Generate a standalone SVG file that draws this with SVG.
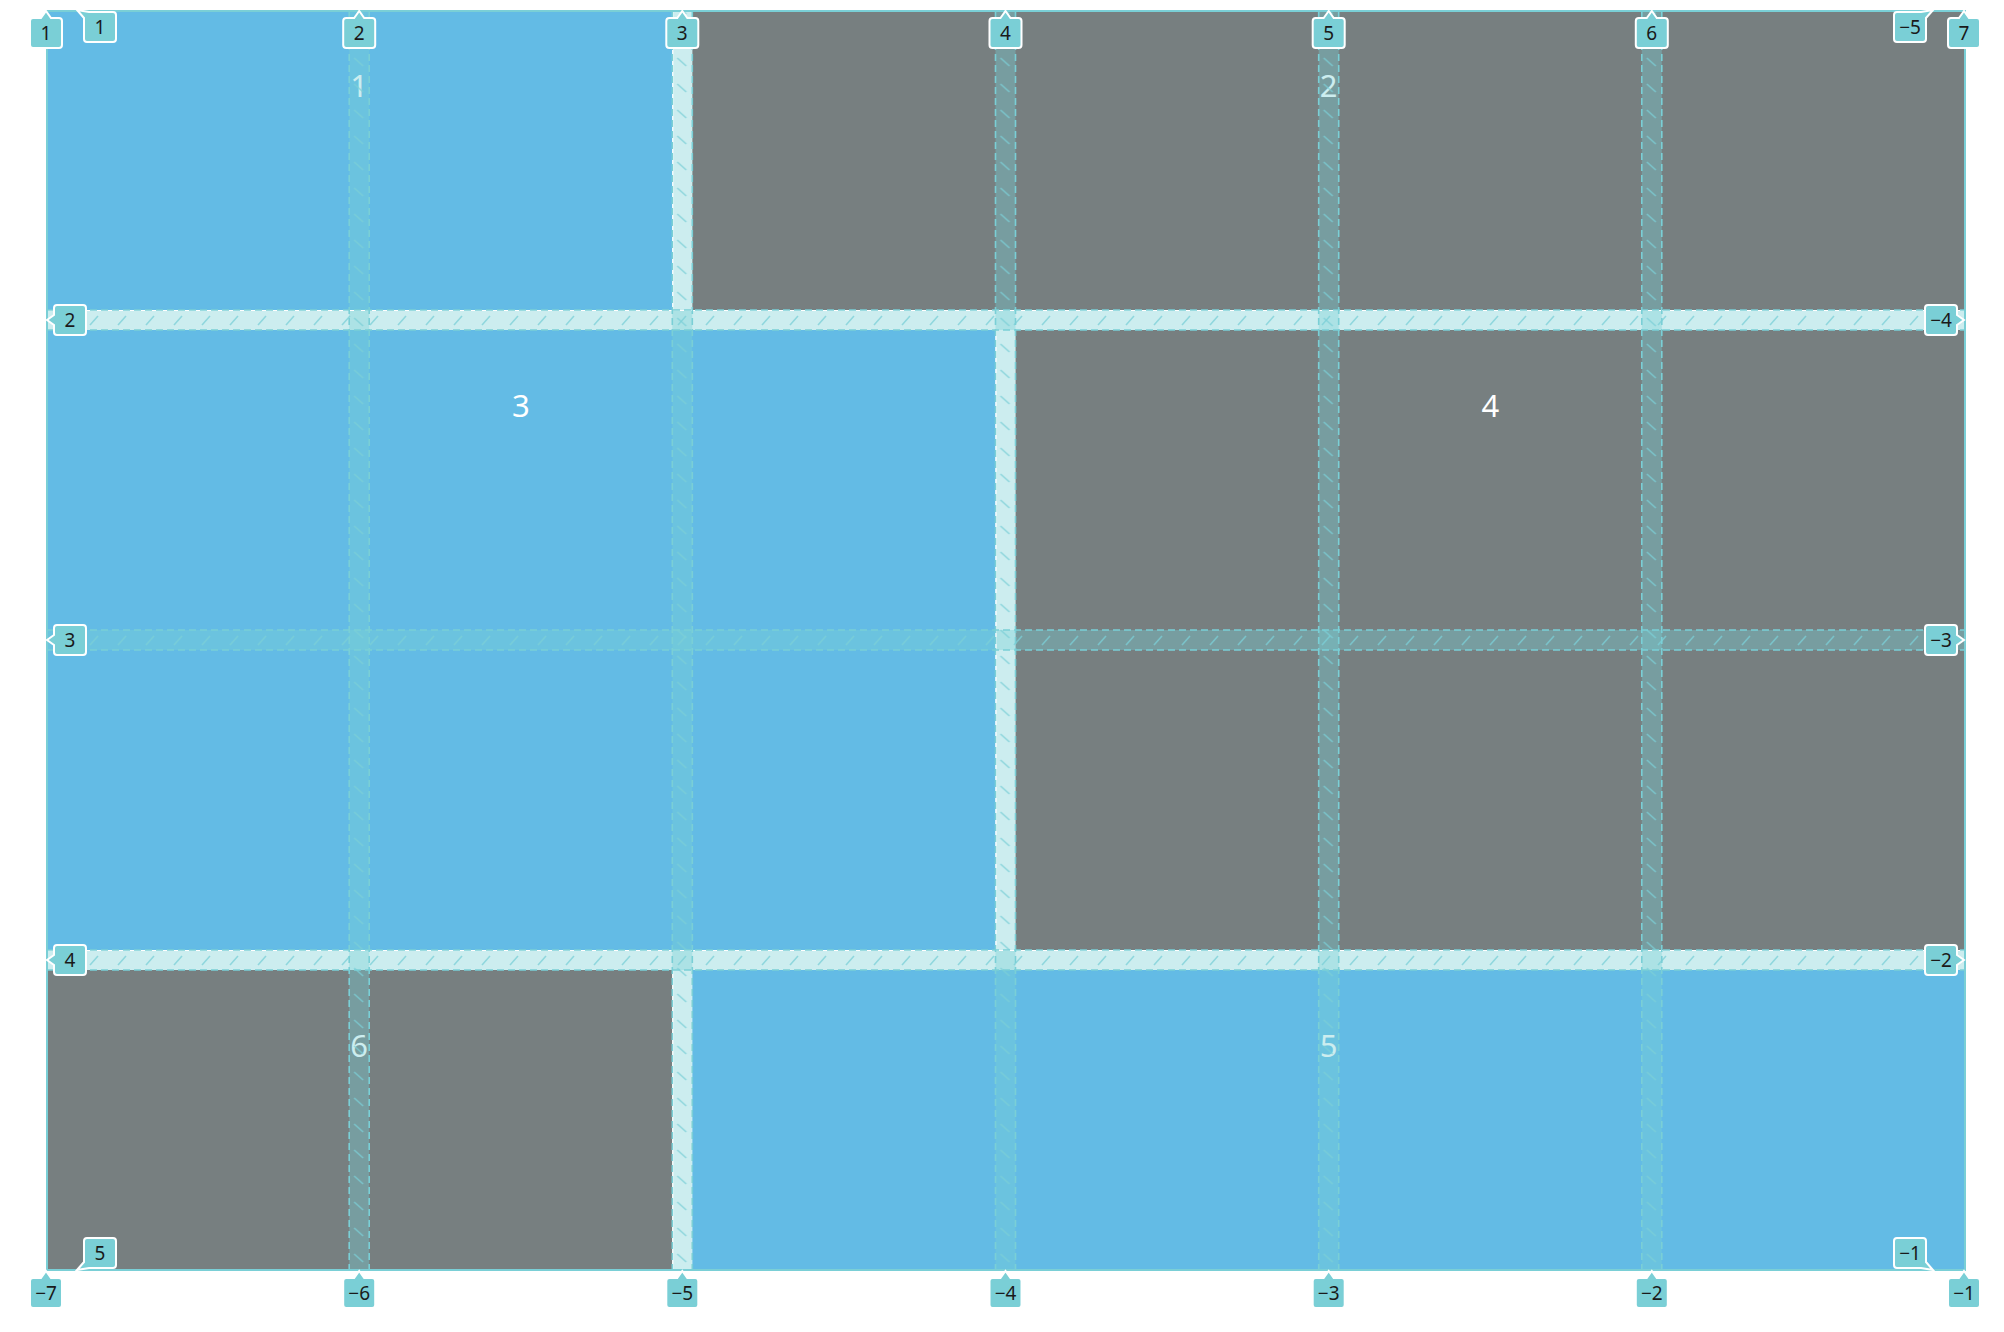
<svg xmlns="http://www.w3.org/2000/svg" xmlns:xlink="http://www.w3.org/1999/xlink" width="2004" height="1332" viewBox="0 0 2004 1332">
<style>
.blue{fill:#63BBE5}
.gray{fill:#777F80}
.num{font-family:"Noto Sans","Open Sans",sans-serif;font-size:31px;fill:#ffffff;text-anchor:middle}
.gapv{fill:url(#hv)}
.gaph{fill:url(#hh)}
.gapfill{fill:#7ACFD6;fill-opacity:0.38}
.edge{stroke:#7ACFD6;stroke-width:1.6;stroke-dasharray:7 4;fill:none}
.wedge{stroke:#ffffff;stroke-width:1.2;fill:none}
.lbl{fill:#7ACFD6;stroke:#ffffff;stroke-width:2}
.lt{font-family:"Noto Sans","Open Sans",sans-serif;font-size:19px;fill:#1a1a1a;text-anchor:middle}
</style>
<defs>
<pattern id="hv" width="20" height="26" patternUnits="userSpaceOnUse"><path d="M5,6 L14,14" stroke="#7ACFD6" stroke-opacity="0.75" stroke-width="1.6"/></pattern>
<pattern id="hh" x="0" y="10" width="28" height="20" patternUnits="userSpaceOnUse"><path d="M6,15 L14,6" stroke="#7ACFD6" stroke-opacity="0.75" stroke-width="1.6"/></pattern>
<path id="lu" d="M-5,8 L0,1 L5,8 H13 A3,3 0 0 1 16,11 V35 A3,3 0 0 1 13,38 H-13 A3,3 0 0 1 -16,35 V11 A3,3 0 0 1 -13,8 Z"/>
<path id="ll" d="M8,-5 L1,0 L8,5 V12 A3,3 0 0 0 11,15 H37 A3,3 0 0 0 40,12 V-12 A3,3 0 0 0 37,-15 H11 A3,3 0 0 0 8,-12 Z"/>
<path id="lr" d="M-8,-5 L-1,0 L-8,5 V12 A3,3 0 0 1 -11,15 H-37 A3,3 0 0 1 -40,12 V-12 A3,3 0 0 1 -37,-15 H-11 A3,3 0 0 1 -8,-12 Z"/>
<path id="ctl" d="M0,0 L12,2 H36 A3,3 0 0 1 39,5 V29 A3,3 0 0 1 36,32 H10 A3,3 0 0 1 7,29 V8 Z"/>
<path id="cbl" d="M0,0 L7,-8 V-29 A3,3 0 0 1 10,-32 H36 A3,3 0 0 1 39,-29 V-5 A3,3 0 0 1 36,-2 H12 Z"/>
<path id="ctr" d="M0,0 L-7,8 V29 A3,3 0 0 1 -10,32 H-36 A3,3 0 0 1 -39,29 V5 A3,3 0 0 1 -36,2 H-12 Z"/>
<path id="cbr" d="M0,0 L-12,-2 H-36 A3,3 0 0 1 -39,-5 V-29 A3,3 0 0 1 -36,-32 H-10 A3,3 0 0 1 -7,-29 V-8 Z"/>
</defs>
<rect width="2004" height="1332" fill="#ffffff"/>

<g id="item1"><rect class="blue" x="46" y="10" width="626.3" height="300"/><text class="num" x="359.2" y="97">1</text></g>
<g id="item2"><rect class="gray" x="692.3" y="10" width="1272.7" height="300"/><text class="num" x="1328.7" y="97">2</text></g>
<g id="item3"><rect class="blue" x="46" y="330" width="949.5" height="620"/><text class="num" x="520.8" y="417">3</text></g>
<g id="item4"><rect class="gray" x="1015.5" y="330" width="949.5" height="620"/><text class="num" x="1490.3" y="417">4</text></g>
<g id="item6"><rect class="gray" x="46" y="970" width="626.3" height="300"/><text class="num" x="359.2" y="1057">6</text></g>
<g id="item5"><rect class="blue" x="692.3" y="970" width="1272.7" height="300"/><text class="num" x="1328.7" y="1057">5</text></g>

<g id="connectors">
<g id="gap-fills">
<rect class="gapfill" x="349.2" y="10" width="20" height="1260"/>
<rect class="gapfill" x="672.3" y="10" width="20" height="1260"/>
<rect class="gapfill" x="995.5" y="10" width="20" height="1260"/>
<rect class="gapfill" x="1318.7" y="10" width="20" height="1260"/>
<rect class="gapfill" x="1641.8" y="10" width="20" height="1260"/>
<rect class="gapfill" x="46" y="310" width="1919" height="20"/>
<rect class="gapfill" x="46" y="630" width="1919" height="20"/>
<rect class="gapfill" x="46" y="950" width="1919" height="20"/>
</g>
<g id="hatches">
<rect class="gapv" transform="translate(349.2,0)" x="0" y="10" width="20" height="1260"/>
<rect class="gapv" transform="translate(672.3,0)" x="0" y="10" width="20" height="1260"/>
<rect class="gapv" transform="translate(995.5,0)" x="0" y="10" width="20" height="1260"/>
<rect class="gapv" transform="translate(1318.7,0)" x="0" y="10" width="20" height="1260"/>
<rect class="gapv" transform="translate(1641.8,0)" x="0" y="10" width="20" height="1260"/>
<rect class="gaph" x="46" y="310" width="1919" height="20"/>
<rect class="gaph" x="46" y="630" width="1919" height="20"/>
<rect class="gaph" x="46" y="950" width="1919" height="20"/>
</g>
<g id="white-edges">
<path class="wedge" d="M46,310.5 H1965 M46,950.5 H1965 M672.8,10 V310 M672.8,970 V1270 M996,330 V950"/>
</g>
<g id="gap-edges">
<path class="edge" d="M349.2,10 V1270 M369.2,10 V1270 M672.3,10 V1270 M692.3,10 V1270 M995.5,10 V1270 M1015.5,10 V1270 M1318.7,10 V1270 M1338.7,10 V1270 M1641.8,10 V1270 M1661.8,10 V1270"/>
<path class="edge" d="M46,310 H1965 M46,330 H1965 M46,630 H1965 M46,650 H1965 M46,950 H1965 M46,970 H1965"/>
</g>
<rect id="grid-outline" x="47" y="11" width="1918" height="1259" fill="none" stroke="#7ACFD6" stroke-width="2"/>
</g>

<g id="labels-top">
<use href="#lu" class="lbl" x="46" y="10"/><text class="lt" x="46" y="39.5">1</text>
<use href="#lu" class="lbl" x="359.2" y="10"/><text class="lt" x="359.2" y="39.5">2</text>
<use href="#lu" class="lbl" x="682.3" y="10"/><text class="lt" x="682.3" y="39.5">3</text>
<use href="#lu" class="lbl" x="1005.5" y="10"/><text class="lt" x="1005.5" y="39.5">4</text>
<use href="#lu" class="lbl" x="1328.7" y="10"/><text class="lt" x="1328.7" y="39.5">5</text>
<use href="#lu" class="lbl" x="1651.8" y="10"/><text class="lt" x="1651.8" y="39.5">6</text>
<use href="#lu" class="lbl" x="1964" y="10"/><text class="lt" x="1964" y="39.5">7</text>
</g>
<g id="labels-bottom">
<use href="#lu" class="lbl" x="46" y="1270"/><text class="lt" x="46" y="1299.5">−7</text>
<use href="#lu" class="lbl" x="359.2" y="1270"/><text class="lt" x="359.2" y="1299.5">−6</text>
<use href="#lu" class="lbl" x="682.3" y="1270"/><text class="lt" x="682.3" y="1299.5">−5</text>
<use href="#lu" class="lbl" x="1005.5" y="1270"/><text class="lt" x="1005.5" y="1299.5">−4</text>
<use href="#lu" class="lbl" x="1328.7" y="1270"/><text class="lt" x="1328.7" y="1299.5">−3</text>
<use href="#lu" class="lbl" x="1651.8" y="1270"/><text class="lt" x="1651.8" y="1299.5">−2</text>
<use href="#lu" class="lbl" x="1964" y="1270"/><text class="lt" x="1964" y="1299.5">−1</text>
</g>
<g id="labels-left">
<use href="#ctl" class="lbl" x="77" y="10"/><text class="lt" x="100" y="33.5">1</text>
<use href="#ll" class="lbl" x="46" y="320"/><text class="lt" x="70" y="326.5">2</text>
<use href="#ll" class="lbl" x="46" y="640"/><text class="lt" x="70" y="646.5">3</text>
<use href="#ll" class="lbl" x="46" y="960"/><text class="lt" x="70" y="966.5">4</text>
<use href="#cbl" class="lbl" x="77" y="1270"/><text class="lt" x="100" y="1259.5">5</text>
</g>
<g id="labels-right">
<use href="#ctr" class="lbl" x="1933" y="10"/><text class="lt" x="1910" y="33.5">−5</text>
<use href="#lr" class="lbl" x="1965" y="320"/><text class="lt" x="1941" y="326.5">−4</text>
<use href="#lr" class="lbl" x="1965" y="640"/><text class="lt" x="1941" y="646.5">−3</text>
<use href="#lr" class="lbl" x="1965" y="960"/><text class="lt" x="1941" y="966.5">−2</text>
<use href="#cbr" class="lbl" x="1933" y="1270"/><text class="lt" x="1910" y="1259.5">−1</text>
</g>
</svg>
